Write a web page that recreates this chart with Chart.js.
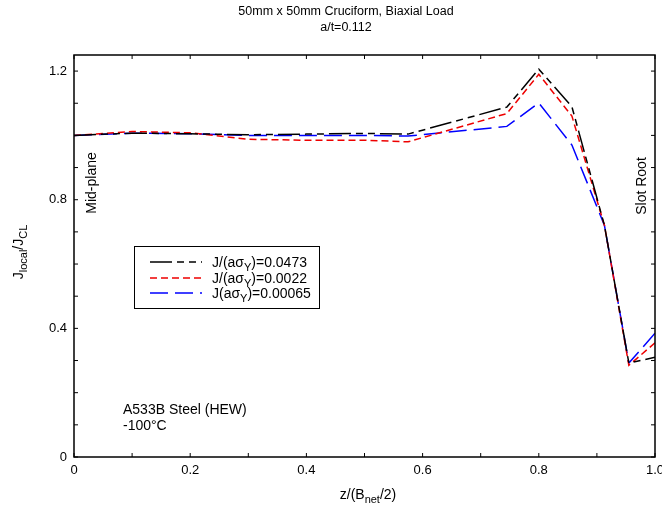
<!DOCTYPE html>
<html>
<head>
<meta charset="UTF-8">
<title>Cruciform J distribution</title>
<script src="https://cdn.jsdelivr.net/npm/chart.js@4.4.0/dist/chart.umd.min.js"></script>
<style>
    body { margin: 0; background: #fff; }
    canvas { display: block; }
</style>
</head>
<body>
<canvas id="myChart" width="662" height="508"></canvas>
<script>
    // z/(Bnet/2) positions along the crack front
    const zPos = [0, 0.1, 0.2, 0.3, 0.4, 0.5, 0.575, 0.745, 0.8, 0.857, 0.913, 0.955, 1.0];
    // Jlocal/JCL for each load level
    const jHigh = [1.0, 1.007, 1.005, 1.002, 1.004, 1.006, 1.004, 1.088, 1.206, 1.089, 0.72, 0.292, 0.31];
    const jMid  = [1.0, 1.012, 1.008, 0.988, 0.985, 0.985, 0.98, 1.068, 1.19, 1.06, 0.72, 0.285, 0.355];
    const jLow  = [1.0, 1.007, 1.005, 1.0, 1.0, 1.0, 0.998, 1.028, 1.101, 0.97, 0.72, 0.292, 0.385];

    const seriesNames = ['0.0473', '0.0022', '0.00065'];
    const xTickLabels = [0, 0.2, 0.4, 0.6, 0.8, 1.0];
    const yTickLabels = [0, 0.4, 0.8, 1.2];

    const FAMILY = '"Liberation Sans", Arial, sans-serif';
    const FONT = '14px ' + FAMILY;
    const SUBFONT = '11px ' + FAMILY;

    function toPoints(ys) {
        return zPos.map((z, i) => ({ x: z, y: ys[i] }));
    }

    function near(v, list) {
        return list.some(t => Math.abs(t - v) < 1e-6);
    }

    // text with subscripts: parts = [[text, isSub], ...]
    function richWidth(ctx, parts) {
        let w = 0;
        parts.forEach(p => {
            ctx.font = p[1] ? SUBFONT : FONT;
            w += ctx.measureText(p[0]).width;
        });
        return w;
    }
    function drawRich(ctx, parts, x, y) {
        ctx.textBaseline = 'alphabetic';
        ctx.textAlign = 'left';
        parts.forEach(p => {
            ctx.font = p[1] ? SUBFONT : FONT;
            ctx.fillText(p[0], x, p[1] ? y + 4 : y);
            x += ctx.measureText(p[0]).width;
        });
    }

    const dashes = [[22, 5, 7, 5, 7, 5], [7, 4], [18, 7]];
    const colors = ['#000000', '#ee0000', '#0000ff'];

    const decor = {
        id: 'decor',
        afterDraw(chart) {
            const ctx = chart.ctx;
            const a = chart.chartArea;
            const xs = chart.scales.x, ys = chart.scales.y;
            ctx.save();
            ctx.fillStyle = '#000';
            ctx.strokeStyle = '#000';

            // frame
            ctx.lineWidth = 1.5;
            ctx.strokeRect(a.left, a.top, a.right - a.left, a.bottom - a.top);

            // inward ticks on all four sides
            ctx.lineWidth = 1;
            ctx.beginPath();
            xs.ticks.forEach(t => {
                if (Math.abs(t.value * 10 - Math.round(t.value * 10)) > 1e-6) return;
                const px = xs.getPixelForValue(t.value);
                ctx.moveTo(px, a.bottom); ctx.lineTo(px, a.bottom - 4);
                ctx.moveTo(px, a.top); ctx.lineTo(px, a.top + 4);
            });
            ys.ticks.forEach(t => {
                if (Math.abs(t.value * 10 - Math.round(t.value * 10)) > 1e-6) return;
                const py = ys.getPixelForValue(t.value);
                ctx.moveTo(a.left, py); ctx.lineTo(a.left + 4, py);
                ctx.moveTo(a.right, py); ctx.lineTo(a.right - 4, py);
            });
            ctx.stroke();

            // title
            ctx.font = '12.5px ' + FAMILY;
            ctx.textAlign = 'center';
            ctx.textBaseline = 'middle';
            ctx.fillText('50mm x 50mm Cruciform, Biaxial Load', 346, 12);
            ctx.fillText('a/t=0.112', 346, 28);

            // axis titles
            const xt = [['z/(B', false], ['net', true], ['/2)', false]];
            drawRich(ctx, xt, 368 - richWidth(ctx, xt) / 2, 499);

            const yt = [['J', false], ['local', true], ['/J', false], ['CL', true]];
            ctx.save();
            ctx.translate(23, 252);
            ctx.rotate(-Math.PI / 2);
            drawRich(ctx, yt, -richWidth(ctx, yt) / 2, 0);
            ctx.restore();

            // side notes
            ctx.font = FONT;
            ctx.textAlign = 'center';
            ctx.textBaseline = 'middle';
            ctx.save();
            ctx.translate(92, 183);
            ctx.rotate(-Math.PI / 2);
            ctx.fillText('Mid-plane', 0, 0);
            ctx.restore();
            ctx.save();
            ctx.translate(642, 186);
            ctx.rotate(-Math.PI / 2);
            ctx.fillText('Slot Root', 0, 0);
            ctx.restore();

            ctx.textAlign = 'left';
            ctx.textBaseline = 'alphabetic';
            ctx.fillText('A533B Steel (HEW)', 123, 414);
            ctx.fillText('-100\u00B0C', 123, 430);

            // legend box
            ctx.lineWidth = 1;
            ctx.strokeStyle = '#000';
            ctx.strokeRect(134.5, 246.5, 185, 62);
            const rows = [262, 278, 293];
            seriesNames.forEach((name, i) => {
                ctx.save();
                ctx.strokeStyle = colors[i];
                ctx.lineWidth = 1.5;
                ctx.setLineDash(dashes[i]);
                ctx.beginPath();
                ctx.moveTo(150, rows[i]);
                ctx.lineTo(202, rows[i]);
                ctx.stroke();
                ctx.restore();
                const lead = i === 2 ? 'J(a\u03C3' : 'J/(a\u03C3';
                drawRich(ctx, [[lead, false], ['Y', true], [')=' + name, false]], 212, rows[i] + 5);
            });

            ctx.restore();
        }
    };

    const ctx = document.getElementById('myChart').getContext('2d');

    const chart = new Chart(ctx, {
        type: 'line',
        data: {
            datasets: [jHigh, jMid, jLow].map((ys, i) => ({
                label: 'J/(a\u03C3Y)=' + seriesNames[i],
                data: toPoints(ys),
                borderColor: colors[i],
                borderWidth: 1.5,
                borderDash: dashes[i],
                pointRadius: 0,
                tension: 0,
                fill: false
            }))
        },
        options: {
            responsive: false,
            animation: false,
            layout: { padding: { top: 55, right: 7, left: 0, bottom: 0 } },
            plugins: {
                legend: { display: false },
                title: { display: false },
                tooltip: { enabled: false }
            },
            scales: {
                x: {
                    type: 'linear',
                    min: 0,
                    max: 1.0,
                    grid: { display: false, drawTicks: false },
                    border: { display: false },
                    ticks: {
                        stepSize: 0.1,
                        padding: 6,
                        color: '#000',
                        font: { family: FAMILY, size: 13 },
                        maxRotation: 0,
                        autoSkip: false,
                        callback: v => near(v, xTickLabels) ? (v === 0 ? '0' : v.toFixed(1)) : ''
                    },
                    afterFit: s => { s.height = 51; s.paddingLeft = 0; s.paddingRight = 0; }
                },
                y: {
                    min: 0,
                    max: 1.25,
                    grid: { display: false, drawTicks: false },
                    border: { display: false },
                    ticks: {
                        stepSize: 0.1,
                        padding: 7,
                        color: '#000',
                        font: { family: FAMILY, size: 13 },
                        autoSkip: false,
                        callback: v => near(v, yTickLabels) ? (v === 0 ? '0' : v.toFixed(1)) : ''
                    },
                    afterFit: s => { s.width = 74; }
                }
            }
        },
        plugins: [decor]
    });
</script>
</body>
</html>
